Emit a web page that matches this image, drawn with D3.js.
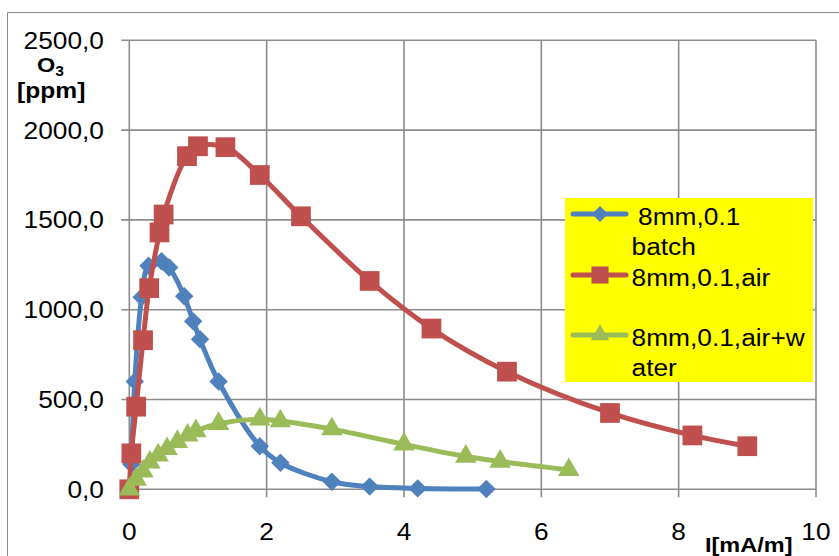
<!DOCTYPE html>
<html>
<head>
<meta charset="utf-8">
<script src="https://cdn.jsdelivr.net/npm/d3@7"></script>
<style>
  html, body { margin: 0; padding: 0; background: #fff; }
  svg { display: block; font-family: "Liberation Sans", Arial, sans-serif; }
</style>
</head>
<body>
<svg id="chart" width="839" height="556"></svg>
<script>
// Ozone concentration vs. discharge current, three gas conditions
const batchI   = [0.03, 0.08, 0.18, 0.28, 0.47, 0.58, 0.80, 0.93, 1.03, 1.30, 1.90, 2.20, 2.95, 3.50, 4.20, 5.20];
const batchO3  = [140, 600, 1070, 1245, 1270, 1235, 1075, 935, 835, 600, 240, 148, 42, 15, 5, 2];

const airI     = [0, 0.03, 0.10, 0.20, 0.29, 0.44, 0.50, 0.84, 1.00, 1.40, 1.90, 2.50, 3.50, 4.40, 5.50, 7.00, 8.20, 9.00];
const airO3    = [0, 200, 460, 830, 1120, 1430, 1530, 1855, 1910, 1905, 1750, 1520, 1160, 895, 655, 425, 300, 240];

const waterI   = [0, 0.10, 0.20, 0.30, 0.42, 0.55, 0.70, 0.85, 0.97, 1.30, 1.90, 2.20, 2.95, 4.00, 4.90, 5.40, 6.40];
const waterO3  = [0, 55, 100, 150, 190, 225, 265, 300, 325, 365, 390, 380, 335, 250, 183, 155, 108];

const xTicks = [0, 2, 4, 6, 8, 10];
const yTicks = [0, 500, 1000, 1500, 2000, 2500];
const yTickLabels = ["0,0", "500,0", "1000,0", "1500,0", "2000,0", "2500,0"];

const seriesNames  = [" 8mm,0.1 batch", "8mm,0.1,air", "8mm,0.1,air+water"];
const legendLines  = [[" 8mm,0.1", "batch"], ["8mm,0.1,air"], ["8mm,0.1,air+w", "ater"]];
const seriesColors = ["#4F81BD", "#C0504D", "#9BBB59"];

// square rotated by 45 degrees, r = half diagonal
const diamondShape = {
  draw(ctx, size) {
    const r = Math.sqrt(size / 2);
    ctx.moveTo(0, -r); ctx.lineTo(r, 0); ctx.lineTo(0, r); ctx.lineTo(-r, 0); ctx.closePath();
  }
};

const series = [
  { name: seriesNames[0], xs: batchI, ys: batchO3, color: seriesColors[0], symbol: diamondShape,      size: 170 },
  { name: seriesNames[1], xs: airI,   ys: airO3,   color: seriesColors[1], symbol: d3.symbolSquare,   size: 390 },
  { name: seriesNames[2], xs: waterI, ys: waterO3, color: seriesColors[2], symbol: d3.symbolTriangle, size: 200 }
];

const svg = d3.select("#chart");
const gridColor = "#8C8C8C";
const stretch = 1.12;

const x = d3.scaleLinear().domain([0, 10]).range([129.3, 816]);
const y = d3.scaleLinear().domain([0, 2500]).range([489.3, 40.3]);

// outer chart frame
svg.append("path")
  .attr("d", "M7.5,560 L7.5,12.5 L845,12.5")
  .attr("fill", "none").attr("stroke", "#8A8A8A").attr("stroke-width", 1);

// grid
const grid = svg.append("g").attr("stroke", gridColor).attr("stroke-width", 1.6);
grid.selectAll("line.v").data(xTicks).join("line")
  .attr("x1", d => x(d)).attr("x2", d => x(d))
  .attr("y1", y(2500)).attr("y2", y(0) + 8);
grid.selectAll("line.h").data(yTicks).join("line")
  .attr("x1", x(0) - 8).attr("x2", x(10))
  .attr("y1", d => y(d)).attr("y2", d => y(d));

// tick labels
function stretchedText(g, tx, ty, str, anchor, size, weight) {
  return g.append("text")
    .attr("transform", `translate(${tx},${ty}) scale(${stretch},1)`)
    .attr("text-anchor", anchor)
    .attr("font-size", size)
    .attr("font-weight", weight || "normal")
    .attr("fill", "#000")
    .text(str);
}
const labels = svg.append("g");
yTicks.forEach((v, i) => stretchedText(labels, 104, y(v) + 8.5, yTickLabels[i], "end", 23.5));
xTicks.forEach(v => stretchedText(labels, x(v), 540, String(v), "middle", 23.5));

// axis titles
const yt = labels.append("text")
  .attr("transform", `translate(37,72) scale(${stretch},1)`)
  .attr("font-size", 21).attr("font-weight", "bold");
yt.append("tspan").text("O");
yt.append("tspan").attr("font-size", 14).attr("dy", 4).text("3");
stretchedText(labels, 17, 98, "[ppm]", "start", 22, "bold");
stretchedText(labels, 705, 552, "I[mA/m]", "start", 21, "bold");

// series lines and markers
const line = d3.line().curve(d3.curveCatmullRom.alpha(0.5));
series.forEach(s => {
  const pts = s.xs.map((v, i) => [x(v), y(s.ys[i])]);
  svg.append("path")
    .attr("d", line(pts))
    .attr("fill", "none")
    .attr("stroke", s.color)
    .attr("stroke-width", 5)
    .attr("stroke-linejoin", "round")
    .attr("stroke-linecap", "round");
  svg.append("g").selectAll("path").data(pts).join("path")
    .attr("transform", d => `translate(${d[0]},${d[1]})`)
    .attr("d", d3.symbol().type(s.symbol).size(s.size))
    .attr("fill", s.color);
});

// legend
const lg = svg.append("g");
lg.append("rect").attr("x", 565).attr("y", 198).attr("width", 248).attr("height", 184).attr("fill", "#FFFF00");
const entryY = [214, 275, 335];
const textX  = [638, 631.5, 631.5];
series.forEach((s, i) => {
  lg.append("line")
    .attr("x1", 573).attr("x2", 626)
    .attr("y1", entryY[i]).attr("y2", entryY[i])
    .attr("stroke", s.color).attr("stroke-width", 5).attr("stroke-linecap", "round");
  lg.append("path")
    .attr("transform", `translate(600,${entryY[i]})`)
    .attr("d", d3.symbol().type(s.symbol).size(s.size * 0.75))
    .attr("fill", s.color);
  legendLines[i].forEach((t, j) => {
    const tx = j === 0 ? textX[i] : 631.5;
    stretchedText(lg, tx, entryY[i] + 10.5 + j * 30, t.trim(), "start", 23.5);
  });
});
</script>
</body>
</html>
